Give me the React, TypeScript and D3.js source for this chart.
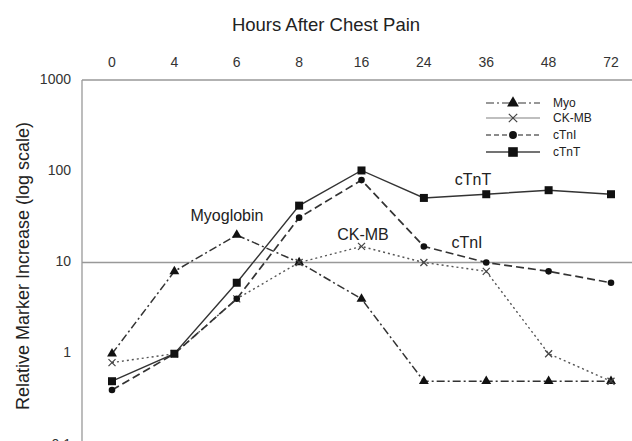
import React from "react";
import * as d3 from "d3";

const hours = ["0", "4", "6", "8", "16", "24", "36", "48", "72"];
const myo = [1, 8, 20, 10, 4, 0.5, 0.5, 0.5, 0.5];
const ckmb = [0.8, 1, 4, 10, 15, 10, 8, 1, 0.5];
const ctni = [0.4, 1, 4, 31, 80, 15, 10, 8, 6];
const ctnt = [0.5, 1, 6, 42, 102, 51, 56, 62, 56];
const yTicks = [0.1, 1, 10, 100, 1000];

const W = 632;
const H = 441;
const font = "'Liberation Sans', Arial, sans-serif";

type Series = {
  name: string;
  values: number[];
  dash: string;
  stroke: string;
  width: number;
  marker: string;
};

const series: Series[] = [
  { name: "Myo", values: myo, dash: "8,3,2,3", stroke: "#333", width: 1.5, marker: "tri" },
  { name: "CK-MB", values: ckmb, dash: "2,3", stroke: "#555", width: 1.4, marker: "x" },
  { name: "cTnI", values: ctni, dash: "8,4", stroke: "#333", width: 1.7, marker: "circle" },
  { name: "cTnT", values: ctnt, dash: "", stroke: "#333", width: 1.4, marker: "square" },
];

function Marker({ type, x, y, s = 1 }: { type: string; x: number; y: number; s?: number }) {
  if (type === "tri") {
    const p = d3.symbol(d3.symbolTriangle, 42 * s * s)();
    return <path d={p || ""} transform={`translate(${x},${y})`} fill="#111" />;
  }
  if (type === "square")
    return <rect x={x - 4 * s} y={y - 4 * s} width={8 * s} height={8 * s} fill="#111" />;
  if (type === "circle") return <circle cx={x} cy={y} r={3.3 * s} fill="#111" />;
  const r = 3.5 * s;
  return (
    <g stroke="#444" strokeWidth={1.2}>
      <line x1={x - r} y1={y - r} x2={x + r} y2={y + r} />
      <line x1={x - r} y1={y + r} x2={x + r} y2={y - r} />
    </g>
  );
}

export default function App() {
  const x = d3.scalePoint<string>().domain(hours).range([112, 611]);
  const y = d3.scaleLog().domain([0.1, 1000]).range([445, 80]);
  const left = 82;

  const line = d3
    .line<number>()
    .x((d, i) => x(hours[i]) as number)
    .y((d) => y(d));

  // legend
  const legX0 = 486;
  const legX1 = 540;
  const legY = [103, 118, 135, 152];
  const legendStyles = [
    { dash: "8,3,2,3", stroke: "#777" },
    { dash: "", stroke: "#aaa" },
    { dash: "5,3", stroke: "#666" },
    { dash: "", stroke: "#444" },
  ];

  return (
    <svg width={W} height={H} style={{ position: "absolute", left: 0, top: 0, background: "#fff" }}>
      <rect width={W} height={H} fill="#fff" />
      <text x={326} y={31} textAnchor="middle" fontFamily={font} fontSize={18.5} fill="#222">
        Hours After Chest Pain
      </text>
      {hours.map((h) => (
        <text key={h} x={x(h)} y={67} textAnchor="middle" fontFamily={font} fontSize={14} fill="#333">
          {h}
        </text>
      ))}
      <text
        transform={`translate(29,266) rotate(-90)`}
        textAnchor="middle"
        fontFamily={font}
        fontSize={18}
        fill="#222"
      >
        Relative Marker Increase (log scale)
      </text>
      {yTicks.map((t) => (
        <text key={t} x={71} y={y(t) + 3.5} textAnchor="end" fontFamily={font} fontSize={14} fill="#333">
          {t}
        </text>
      ))}
      <line x1={left} y1={y(1000)} x2={W} y2={y(1000)} stroke="#999" strokeWidth={1.3} />
      <line x1={left} y1={y(10)} x2={W} y2={y(10)} stroke="#999" strokeWidth={1.3} />
      <line x1={left} y1={y(1000)} x2={left} y2={H} stroke="#999" strokeWidth={1.3} />

      {series.map((s) => (
        <path
          key={s.name}
          d={line(s.values) || ""}
          fill="none"
          stroke={s.stroke}
          strokeWidth={s.width}
          strokeDasharray={s.dash || undefined}
        />
      ))}
      {series.map((s) =>
        s.values.map((v, i) => (
          <Marker key={s.name + i} type={s.marker} x={x(hours[i]) as number} y={y(v)} />
        ))
      )}

      <text x={227} y={221} textAnchor="middle" fontFamily={font} fontSize={16} fill="#222">
        Myoglobin
      </text>
      <text x={363} y={240} textAnchor="middle" fontFamily={font} fontSize={16} fill="#222">
        CK-MB
      </text>
      <text x={473} y={185} textAnchor="middle" fontFamily={font} fontSize={16} fill="#222">
        cTnT
      </text>
      <text x={467} y={248} textAnchor="middle" fontFamily={font} fontSize={16} fill="#222">
        cTnI
      </text>

      {series.map((s, i) => (
        <g key={"leg" + s.name}>
          <line
            x1={legX0}
            x2={legX1}
            y1={legY[i]}
            y2={legY[i]}
            stroke={legendStyles[i].stroke}
            strokeWidth={1.6}
            strokeDasharray={legendStyles[i].dash || undefined}
          />
          <Marker type={s.marker} x={(legX0 + legX1) / 2} y={legY[i]} s={1.2} />
          <text x={553} y={legY[i] + 4} fontFamily={font} fontSize={12} fill="#222">
            {s.name}
          </text>
        </g>
      ))}
    </svg>
  );
}
